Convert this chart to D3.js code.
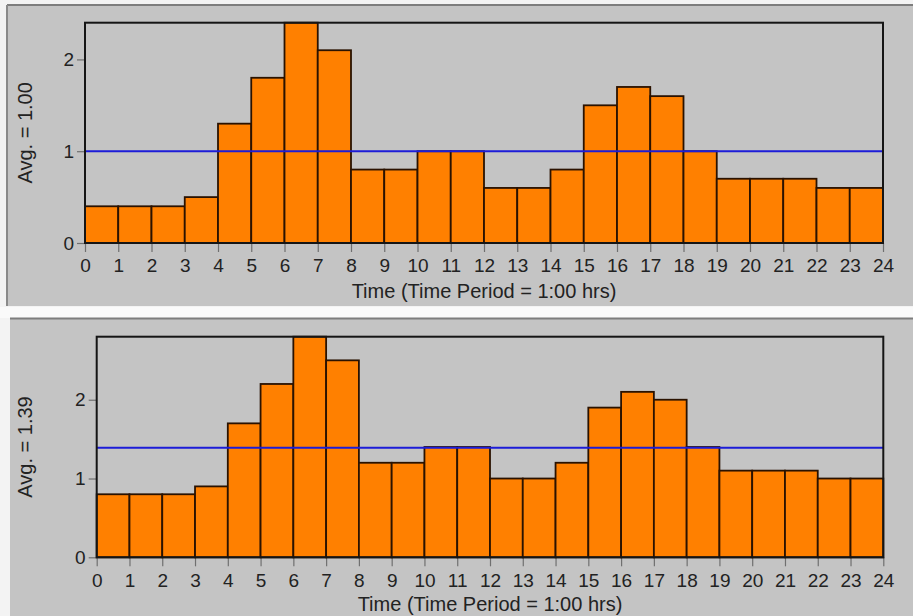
<html lang="en">
<head>
    <meta charset="UTF-8"/>
    <title>Hourly averages</title>
    <style>
        body {
            margin: 0;
            background: #f3f3f3;
        }

        svg {
            display: block;
        }

        text {
            font-family: "Liberation Sans", Arial, sans-serif;
            fill: #222;
        }
    </style>
</head>
<body>
<svg width="913" height="616"></svg>
<script src="https://d3js.org/d3.v7.min.js"></script>
<script>
    // hour where each period starts
    const periods = [0, 1, 2, 3, 4, 5, 6, 7, 8, 9, 10, 11, 12, 13, 14, 15, 16, 17, 18, 19, 20, 21, 22, 23];
    const hourTicks = [0, 1, 2, 3, 4, 5, 6, 7, 8, 9, 10, 11, 12, 13, 14, 15, 16, 17, 18, 19, 20, 21, 22, 23, 24];
    const topValues = [0.4, 0.4, 0.4, 0.5, 1.3, 1.8, 2.4, 2.1, 0.8, 0.8, 1.0, 1.0,
        0.6, 0.6, 0.8, 1.5, 1.7, 1.6, 1.0, 0.7, 0.7, 0.7, 0.6, 0.6];
    const bottomValues = [0.8, 0.8, 0.8, 0.9, 1.7, 2.2, 2.8, 2.5, 1.2, 1.2, 1.4, 1.4,
        1.0, 1.0, 1.2, 1.9, 2.1, 2.0, 1.4, 1.1, 1.1, 1.1, 1.0, 1.0];
    const averages = [1.00, 1.39];
    const yTicks = [0, 1, 2];
    const xTitle = "Time (Time Period = 1:00 hrs)";

    const svg = d3.select("svg");

    // top panel
    drawPanel({
        values: topValues, avg: averages[0],
        box: {x: 7, y: 5, w: 920, h: 301, leftBorder: true},
        plot: {left: 85, right: 883, top: 22.7, bottom: 243},
        xTitleY: 298
    });

    // strip between the two panels
    svg.append("rect")
        .attr("x", 0).attr("y", 307).attr("width", 913).attr("height", 11)
        .attr("fill", "#fafafa");

    // bottom panel
    drawPanel({
        values: bottomValues, avg: averages[1],
        box: {x: 10, y: 318.5, w: 910, h: 300, leftBorder: false},
        plot: {left: 96.7, right: 883.3, top: 336.7, bottom: 557.3},
        xTitleY: 611
    });

    function drawPanel(cfg) {
        const g = svg.append("g");
        const b = cfg.box;
        const p = cfg.plot;

        g.append("rect")
            .attr("x", b.x).attr("y", b.y).attr("width", b.w).attr("height", b.h)
            .attr("fill", "#c4c4c4");
        g.append("line")
            .attr("x1", b.x).attr("x2", b.x + b.w).attr("y1", b.y).attr("y2", b.y)
            .attr("stroke", "#7d7d7d").attr("stroke-width", 2);
        if (b.leftBorder) {
            g.append("line")
                .attr("x1", b.x).attr("x2", b.x).attr("y1", b.y).attr("y2", b.y + b.h)
                .attr("stroke", "#8a8a8a").attr("stroke-width", 2);
        }

        const x = d3.scaleLinear().domain([0, 24]).range([p.left, p.right]);
        const y = d3.scaleLinear().domain([0, d3.max(cfg.values)]).range([p.bottom, p.top]);

        // axes
        const xAxis = g.append("g")
            .attr("transform", `translate(0,${p.bottom})`)
            .call(d3.axisBottom(x).tickValues(hourTicks).tickFormat(d3.format("d"))
                .tickSize(9).tickPadding(7));
        const yAxis = g.append("g")
            .attr("transform", `translate(${p.left},0)`)
            .call(d3.axisLeft(y).tickValues(yTicks).tickFormat(d3.format("d"))
                .tickSize(8).tickPadding(3));
        [xAxis, yAxis].forEach(a => {
            a.select(".domain").remove();
            a.selectAll(".tick line").attr("stroke", "#707070").attr("stroke-width", 1.2);
            a.selectAll(".tick text")
                .style("font-size", "19px")
                .attr("fill", "#222");
        });

        // bars
        g.append("g")
            .selectAll("rect")
            .data(periods)
            .join("rect")
            .attr("x", d => x(d))
            .attr("y", (d, i) => y(cfg.values[i]))
            .attr("width", d => x(d + 1) - x(d))
            .attr("height", (d, i) => y(0) - y(cfg.values[i]))
            .attr("fill", "#ff8000")
            .attr("stroke", "#2a1200")
            .attr("stroke-width", 1.8);

        // average line
        g.append("line")
            .attr("x1", p.left).attr("x2", p.right)
            .attr("y1", y(cfg.avg)).attr("y2", y(cfg.avg))
            .attr("stroke", "#1c1cd8").attr("stroke-width", 2);

        // plot frame
        g.append("rect")
            .attr("x", p.left).attr("y", p.top)
            .attr("width", p.right - p.left).attr("height", p.bottom - p.top)
            .attr("fill", "none")
            .attr("stroke", "#151515").attr("stroke-width", 2);

        // titles
        g.append("text")
            .attr("transform", `translate(25,${(p.top + p.bottom) / 2}) rotate(-90)`)
            .attr("text-anchor", "middle")
            .attr("dy", "0.35em")
            .style("font-size", "20px")
            .text("Avg. = " + cfg.avg.toFixed(2));
        g.append("text")
            .attr("x", (p.left + p.right) / 2)
            .attr("y", cfg.xTitleY)
            .attr("text-anchor", "middle")
            .style("font-size", "20px")
            .text(xTitle);
    }
</script>
</body>
</html>
